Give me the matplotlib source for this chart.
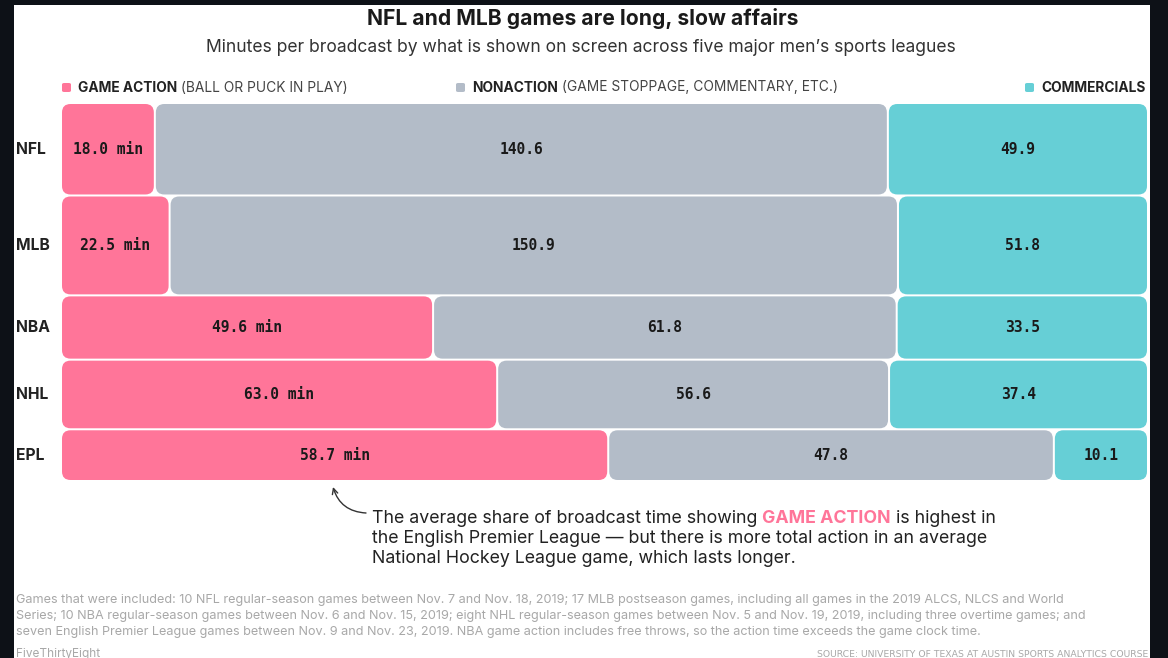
import matplotlib
matplotlib.use("Agg")
import matplotlib.pyplot as plt
from matplotlib.patches import FancyBboxPatch, Rectangle

# ---------------- data ----------------
leagues = ["NFL", "MLB", "NBA", "NHL", "EPL"]
game_action = [18.0, 22.5, 49.6, 63.0, 58.7]
nonaction = [140.6, 150.9, 61.8, 56.6, 47.8]
commercials = [49.9, 51.8, 33.5, 37.4, 10.1]
categories = ["GAME ACTION", "NONACTION", "COMMERCIALS"]
category_notes = ["(BALL OR PUCK IN PLAY)", "(GAME STOPPAGE, COMMENTARY, ETC.)", ""]

# ---------------- style ----------------
C_ACTION = "#ff7599"
C_NON = "#b3bcc8"
C_COMM = "#66cfd6"
colors = [C_ACTION, C_NON, C_COMM]
BG_DARK = "#0d1117"
FONT = ["Inter", "DejaVu Sans"]
MONO = ["DejaVu Sans Mono"]

W, H = 1168, 658
fig = plt.figure(figsize=(W / 100, H / 100), dpi=100)
fig.patch.set_facecolor(BG_DARK)
fig.add_artist(Rectangle((14 / W, 0), (1150 - 14) / W, (H - 5) / H,
                         transform=fig.transFigure, facecolor="white",
                         edgecolor="none", zorder=-1))


def fx(px):
    return px / W


def fy(py):
    return 1 - py / H


# ---------------- main marimekko ----------------
L, R, T, B = 61, 1148, 103, 481
ax = fig.add_axes([fx(L), fy(B), fx(R - L), (B - T) / H])
ax.patch.set_visible(False)
totals = [a + n + c for a, n, c in zip(game_action, nonaction, commercials)]
grand = sum(totals)
ax.set_xlim(0, 1)
ax.set_ylim(grand, 0)
ax.axis("off")

xpp = 1 / (R - L)          # x data units per pixel
ypp = grand / (B - T)      # y data units per pixel
gx, gy = 1.0 * xpp, 1.0 * ypp
rad = 8.5 * xpp
aspect = ypp / xpp

y0 = 0.0
for i, lg in enumerate(leagues):
    vals = [game_action[i], nonaction[i], commercials[i]]
    tot = totals[i]
    x0 = 0.0
    for j, v in enumerate(vals):
        w = v / tot
        p = FancyBboxPatch((x0 + gx, y0 + gy), w - 2 * gx, tot - 2 * gy,
                           boxstyle=f"round,pad=0,rounding_size={rad}",
                           mutation_aspect=aspect, facecolor=colors[j],
                           edgecolor="none")
        ax.add_patch(p)
        label = f"{v:.1f} min" if j == 0 else f"{v:.1f}"
        ax.text(x0 + w / 2, y0 + tot / 2, label, ha="center", va="center",
                family=MONO, weight="bold", fontsize=10.5, color="#1a1a1a")
        x0 += w
    ax.text((16 - L) * xpp, y0 + tot / 2, lg, ha="left", va="center",
            family=FONT, weight="bold", fontsize=11.3, color="#222222")
    y0 += tot

# ---------------- text helpers ----------------
renderer = fig.canvas.get_renderer()


def rich(x, y, parts, size, va="baseline"):
    cur = fx(x)
    for text, weight, color in parts:
        t = fig.text(cur, fy(y), text, ha="left", va=va, fontsize=size,
                     family=FONT, weight=weight, color=color)
        bb = t.get_window_extent(renderer=renderer)
        cur = bb.x1 / fig.bbox.width
    return cur


# title
fig.text(fx(583), fy(25), "NFL and MLB games are long, slow affairs",
         ha="center", va="baseline", fontsize=15.2, weight="bold",
         family=FONT, color="#1a1a1a")
fig.text(fx(581), fy(52),
         "Minutes per broadcast by what is shown on screen across five major men\u2019s sports leagues",
         ha="center", va="baseline", fontsize=12.6, family=FONT, color="#333333")

# legend
leg_x = [62, 456, 1025]
for k in range(3):
    fig.add_artist(FancyBboxPatch((fx(leg_x[k]), fy(92)), fx(9), 9 / H,
                                  boxstyle="round,pad=0,rounding_size=0.002",
                                  transform=fig.transFigure,
                                  facecolor=colors[k], edgecolor="none"))
    parts = [(categories[k], "bold", "#222222")]
    if category_notes[k]:
        parts.append((" " + category_notes[k], "normal", "#444444"))
    rich(leg_x[k] + 16, 91.5, parts, 9.9)

# annotation
ax.annotate("", xy=(fx(333), fy(487)), xycoords="figure fraction",
            xytext=(fx(366), fy(513)), textcoords="figure fraction",
            arrowprops=dict(arrowstyle="->", color="#333333", lw=1.0,
                            connectionstyle="arc3,rad=-0.35",
                            shrinkA=0, shrinkB=0))
rich(372, 523, [("The average share of broadcast time showing ", "normal", "#222222"),
                ("GAME ACTION", "bold", C_ACTION),
                (" is highest in", "normal", "#222222")], 12.8)
rich(372, 543, [("the English Premier League \u2014 but there is more total action in an average",
                 "normal", "#222222")], 12.8)
rich(372, 563, [("National Hockey League game, which lasts longer.", "normal", "#222222")], 12.8)

# footnote
notes = [
    "Games that were included: 10 NFL regular-season games between Nov. 7 and Nov. 18, 2019; 17 MLB postseason games, including all games in the 2019 ALCS, NLCS and World",
    "Series; 10 NBA regular-season games between Nov. 6 and Nov. 15, 2019; eight NHL regular-season games between Nov. 5 and Nov. 19, 2019, including three overtime games; and",
    "seven English Premier League games between Nov. 9 and Nov. 23, 2019. NBA game action includes free throws, so the action time exceeds the game clock time.",
]
for n, line in enumerate(notes):
    fig.text(fx(16), fy(603 + 16 * n), line, ha="left", va="baseline",
             fontsize=9.1, family=FONT, color="#a8a8a8")

fig.text(fx(16), fy(657), "FiveThirtyEight", ha="left", va="baseline",
         fontsize=8.5, family=FONT, color="#a8a8a8")
fig.text(fx(1148), fy(657), "SOURCE: UNIVERSITY OF TEXAS AT AUSTIN SPORTS ANALYTICS COURSE",
         ha="right", va="baseline", fontsize=6.7,
         family=["Liberation Sans Narrow", "DejaVu Sans"], color="#a8a8a8")

fig.savefig("out.png", dpi=100, facecolor=fig.get_facecolor())
